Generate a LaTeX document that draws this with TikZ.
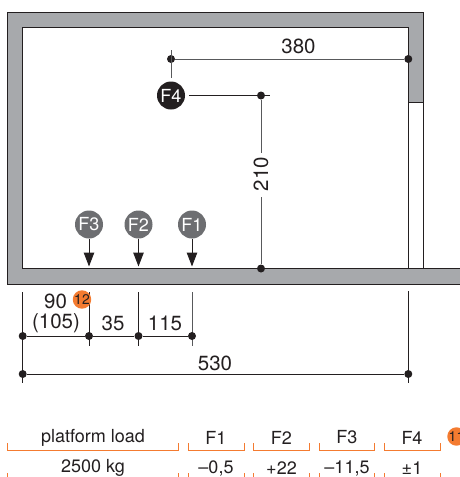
\documentclass[tikz,border=0pt]{standalone}
\usepackage{fontspec}
\setmainfont{TeX Gyre Heros}
\usetikzlibrary{arrows.meta}
\definecolor{wallgray}{HTML}{A7A9AC}
\definecolor{ink}{HTML}{231F20}
\definecolor{fgray}{HTML}{6D6E71}
\definecolor{lgray}{HTML}{58595B}
\definecolor{accent}{HTML}{F47B30}
\tikzset{
  x=1pt,y=-1pt,
  wall/.style={fill=wallgray,draw=ink,line width=0.8pt},
  dimline/.style={draw=lgray,line width=0.9pt},
  dimdark/.style={draw=ink,line width=0.8pt},
  dimdot/.style={circle,fill=ink,inner sep=0pt,minimum size=8pt},
  force/.style={circle,fill=fgray,text=white,inner sep=0pt,minimum size=28pt,font=\fontsize{18}{18}\selectfont},
  forcedark/.style={force,fill=ink},
  dimtext/.style={text=ink,inner sep=0pt,font=\fontsize{20.5}{21}\selectfont},
  tabtext/.style={text=ink,inner sep=0pt,font=\fontsize{18}{19}\selectfont},
  badge/.style={circle,fill=accent,text=ink,inner sep=0pt,minimum size=18pt,font=\fontsize{14}{14}\selectfont},
  bracket/.style={draw=accent,line width=0.9pt},
  loadarrow/.style={draw=ink,line width=1pt,-{Triangle[length=14pt,width=10.5pt]}}
}
\begin{document}
\begin{tikzpicture}
\useasboundingbox (0,0) rectangle (460,477);
\clip (0,0) rectangle (460,477);
% walls
\draw[wall] (7.5,284) -- (7.5,12.5) -- (423.5,12.5) -- (423.5,102) -- (408.3,102) -- (408.3,27.5) -- (22.7,27.5) -- (22.7,268.5) -- (461,268.5) -- (461,284) -- cycle;
\draw[dimdark] (408.3,102) -- (408.3,268.5) (423.5,102) -- (423.5,268.5);
% upper dimensions
\node[forcedark] (f4) at (171,95.5) {F4};
\node[dimdot] (d1) at (171,59) {};
\node[dimdot] (d2) at (408.3,59) {};
\node[dimdot] (d3) at (261,95.5) {};
\node[dimdot] (d4) at (261,268.5) {};
\coordinate (d1top) at (171,50);
\coordinate (d3end) at (270,95.5);
\draw[dimline] (d1top) -- (171,78);
\draw[dimline] (d1) -- (d2);
\draw[dimdark] (189,95.5) -- (d3end);
\node[dimtext] (t380) at (298.5,46) {380};
\node[dimtext,rotate=90] (t210) at (261,174) {210};
\draw[dimline] (d3) -- (261,153);
\draw[dimline] (261,197) -- (d4);
% forces
\node[force] (f3) at (89,224.5) {F3};
\node[force] (f2) at (138.5,224.5) {F2};
\node[force] (f1) at (192,224.5) {F1};
\coordinate (a3) at (89,266.5);
\coordinate (a2) at (138.5,266.5);
\coordinate (a1) at (192,266.5);
\draw[loadarrow] (f3) -- (a3);
\draw[loadarrow] (f2) -- (a2);
\draw[loadarrow] (f1) -- (a1);
% lower dimensions
\coordinate (v0) at (22.7,292);
\coordinate (v0b) at (22.7,383);
\coordinate (v3) at (89,292);
\coordinate (v3b) at (89,346);
\coordinate (v2) at (138.5,292);
\coordinate (v2b) at (138.5,346);
\coordinate (v1) at (192,292);
\coordinate (v1b) at (192,346);
\coordinate (v4) at (408.3,291);
\coordinate (v4b) at (408.3,383);
\draw[dimdark] (v0) -- (v0b);
\draw[dimdark] (v3) -- (v3b);
\draw[dimdark] (v2) -- (v2b);
\draw[dimline] (v1) -- (v1b);
\draw[dimdark] (v4) -- (v4b);
\node[dimdot] (p0) at (22.7,336) {};
\node[dimdot] (p3) at (89,336) {};
\node[dimdot] (p2) at (138.5,336) {};
\node[dimdot] (p1) at (192,336) {};
\node[dimdot] (q0) at (22.7,374) {};
\node[dimdot] (q4) at (408.3,374) {};
\draw[dimdark] (p0) -- (p3);
\draw[dimdark] (p3) -- (p2);
\draw[dimdark] (p2) -- (p1);
\draw[dimdark] (q0) -- (q4);
\node[dimtext] (t90) at (55.5,301) {90};
\node[dimtext] (t105) at (56,323.5) {(105)};
\node[dimtext] (t35) at (113,323.5) {35};
\node[dimtext] (t115) at (165,323.5) {115};
\node[dimtext] (t530) at (215,363) {530};
\node[badge] (b12) at (82,299.5) {12};
% table
\node[tabtext] (h0) at (93,437.5) {platform load};
\node[tabtext] (h1) at (216,437.5) {F1};
\node[tabtext] (h2) at (281.5,437.5) {F2};
\node[tabtext] (h3) at (347,437.5) {F3};
\node[tabtext] (h4) at (412,437.5) {F4};
\node[tabtext] (c0) at (93,468) {2500 kg};
\node[tabtext] (c1) at (216,468) {–0,5};
\node[tabtext] (c2) at (281.5,468) {+22};
\node[tabtext] (c3) at (347,468) {–11,5};
\node[tabtext] (c4) at (412,468) {±1};
\node[badge] (b13) at (456.5,436.5) {11};
\foreach \a/\b in {7.5/178,188.5/244,253.5/309,319/374.5,384.5/440}{
  \draw[bracket] (\a,443) -- (\a,450) -- (\b,450) -- (\b,443);
  \draw[bracket] (\a,473) -- (\a,478);
  \draw[bracket] (\b,473) -- (\b,478);
}
\end{tikzpicture}
\end{document}
